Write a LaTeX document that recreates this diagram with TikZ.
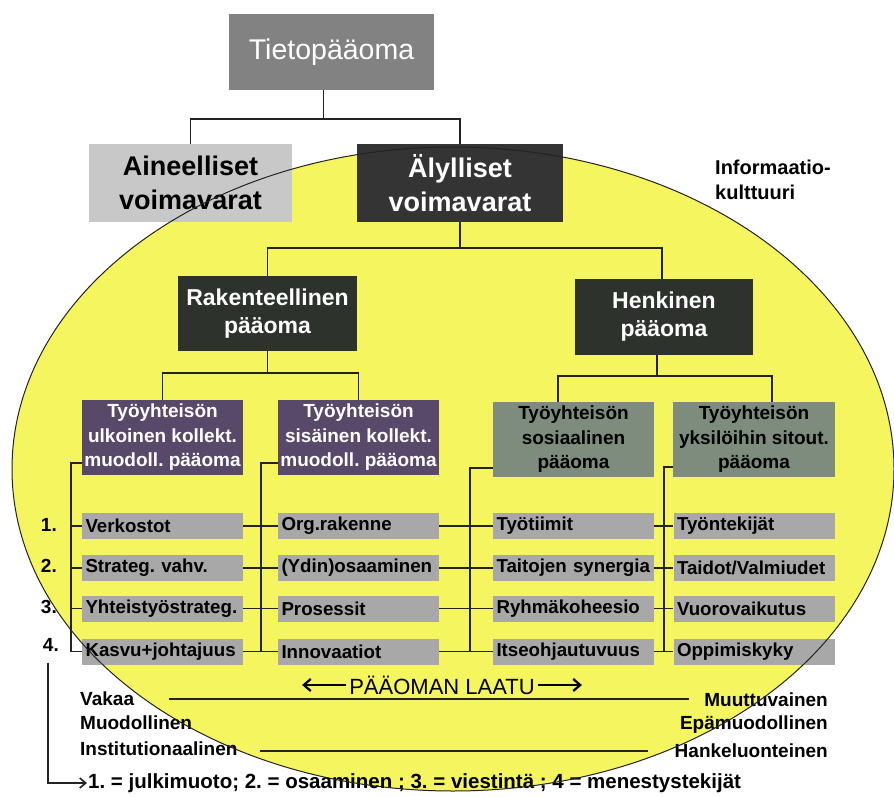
\documentclass[tikz,border=0pt]{standalone}
\usepackage{fontspec}
\setmainfont{Liberation Sans}
\usetikzlibrary{arrows.meta,calc}
\definecolor{ellyellow}{RGB}{245,245,95}
\definecolor{tietogray}{RGB}{130,130,130}
\definecolor{lightbox}{RGB}{200,200,200}
\definecolor{darkbox}{RGB}{52,52,52}
\definecolor{darkgreen}{RGB}{45,50,45}
\definecolor{purplebox}{RGB}{88,72,105}
\definecolor{greenbox}{RGB}{125,140,125}
\definecolor{itembox}{RGB}{168,168,168}
\definecolor{linecol}{RGB}{35,35,35}
\newcommand{\myfs}[2]{\fontsize{#1}{#2}\selectfont}
\frenchspacing
\tikzset{
  conn/.style={draw=linecol, line width=1.6pt},
  topbox/.style={inner sep=0pt, align=center},
  bigtxt/.style={font=\myfs{27}{34}\bfseries},
  midtxt/.style={font=\myfs{23}{28}\bfseries, text=white, fill=darkgreen, minimum height=75pt, minimum width=179pt},
  subbox/.style={inner sep=0pt, align=center, minimum width=161pt, minimum height=75pt, font=\myfs{19}{24.5}\bfseries},
  itemnode/.style={fill=itembox, minimum height=26pt, text width=154pt, inner xsep=3.5pt, inner ysep=0pt, align=left, font=\myfs{18.7}{22}\bfseries},
  numnode/.style={anchor=east, inner sep=1pt, font=\myfs{19}{22}\bfseries},
  sidetxt/.style={inner sep=0pt, font=\myfs{19}{22}\bfseries}
}
\begin{document}
\begin{tikzpicture}[x=1pt,y=-1pt]
\useasboundingbox (0,0) rectangle (894,797);
\fill[white] (0,0) rectangle (894,797);
% ellipse fill
\fill[ellyellow] (453,469) ellipse [x radius=441pt, y radius=322pt];

% top level
\node[topbox, fill=tietogray, minimum width=205pt, minimum height=76pt, text=white, font=\myfs{28.5}{34}] (tieto) at (331.5,52) {Tietopääoma};
\node[topbox, bigtxt, fill=lightbox, minimum width=203pt, minimum height=78pt] (ainee) at (190.5,183) {Aineelliset\\voimavarat};
\node[topbox, bigtxt, fill=darkbox, text=white, minimum width=206pt, minimum height=78pt] (alyl) at (460,183) {Älylliset\\voimavarat};
\node[anchor=north west, inner sep=0pt, align=left, font=\myfs{20}{24.5}\bfseries] (info) at (715,160) {Informaatio-\\kulttuuri};

% second level
\node[topbox, midtxt] (rak) at (267.5,313.5) {Rakenteellinen\\pääoma};
\node[topbox, midtxt, minimum width=178pt, minimum height=76pt] (henk) at (664,317) {Henkinen\\pääoma};

% third level
\node[subbox, fill=purplebox, text=white] (p1) at (162.5,437.5) {Työyhteisön\\ulkoinen kollekt.\\muodoll. pääoma};
\node[subbox, fill=purplebox, text=white] (p2) at (358.5,437.5) {Työyhteisön\\sisäinen kollekt.\\muodoll. pääoma};
\node[subbox, fill=greenbox] (g1) at (573.5,439.5) {Työyhteisön\\sosiaalinen\\pääoma};
\node[subbox, fill=greenbox, minimum width=162pt] (g2) at (754,439.5) {Työyhteisön\\yksilöihin sitout.\\pääoma};

% items
\node[itemnode] (a1) at (162.5,526) {Verkostot};
\node[itemnode] (a2) at (162.5,568) {Strateg. vahv.};
\node[itemnode] (a3) at (162.5,608.5) {Yhteistyöstrateg.};
\node[itemnode] (a4) at (162.5,651.5) {Kasvu+johtajuus};
\node[itemnode] (b1) at (358.5,526) {Org.rakenne};
\node[itemnode] (b2) at (358.5,568) {(Ydin)osaaminen};
\node[itemnode] (b3) at (358.5,608.5) {Prosessit};
\node[itemnode] (b4) at (358.5,651.5) {Innovaatiot};
\node[itemnode] (c1) at (573.5,526) {Työtiimit};
\node[itemnode] (c2) at (573.5,568) {Taitojen synergia};
\node[itemnode] (c3) at (573.5,608.5) {Ryhmäkoheesio};
\node[itemnode] (c4) at (573.5,651.5) {Itseohjautuvuus};
\node[itemnode] (d1) at (754,526) {Työntekijät};
\node[itemnode] (d2) at (754,568) {Taidot/Valmiudet};
\node[itemnode] (d3) at (754,608.5) {Vuorovaikutus};
\node[itemnode] (d4) at (754,651.5) {Oppimiskyky};

% row numbers
\node[numnode] (n1) at (58,525) {1.};
\node[numnode] (n2) at (58,566) {2.};
\node[numnode] (n3) at (58,607) {3.};
\node[numnode] (n4) at (60,645) {4.};

% connectors of hierarchy
\draw[conn] ([xshift=-8pt]tieto.south) -- ++(0,29) coordinate (tj);
\draw[conn] (ainee.north) |- (tj) -| (alyl.north);
\draw[conn] (alyl.south) -- ++(0,26) coordinate (aj);
\draw[conn] (rak.north) |- (aj) -| ([xshift=-2pt]henk.north);
\draw[conn] (rak.south) -- ++(0,22) coordinate (rj);
\draw[conn] (p1.north) |- (rj) -| (p2.north);
\draw[conn] ([xshift=-7pt]henk.south) -- ++(0,21) coordinate (hj);
\draw[conn] ([xshift=-15.5pt]g1.north) |- (hj) -| ([xshift=18pt]g2.north);

% brackets to items
\draw[conn] ([yshift=12pt]p1.south west) -- ++(-11,0) coordinate (p1v) |- (a4.west);
\foreach \i in {1,2,3} \draw[conn] (a\i.west) -- (p1v |- a\i.west);
\draw[conn] ([yshift=12pt]p2.south west) -- ++(-17,0) coordinate (p2v) -- (p2v |- a4.east);
\draw[conn] ([yshift=9pt]g1.south west) -- ++(-23,0) coordinate (g1v) -- (g1v |- b4.east);
\draw[conn] ([yshift=10pt]g2.south west) -- ++(-9,0) coordinate (g2v) -- (g2v |- c4.east);
\foreach \i in {1,2,3,4} {
  \draw[conn] (a\i.east) -- (b\i.west);
  \draw[conn] (b\i.east) -- (c\i.west);
  \draw[conn] (c\i.east) -- (d\i.west);
}

% quality scale
\node[inner sep=3pt, font=\myfs{22}{26}] (laatu) at (442,685) {PÄÄOMAN LAATU};
\draw[draw=black, line width=2.2pt, -{Straight Barb[length=7pt,width=12pt]}] (laatu.west) -- ++(-44,0);
\draw[draw=black, line width=2.2pt, -{Straight Barb[length=7pt,width=12pt]}] (laatu.east) -- ++(44,0);

\node[sidetxt, anchor=west] (vak) at (80,699) {Vakaa};
\node[sidetxt, anchor=west] (muod) at (80,723) {Muodollinen};
\node[sidetxt, anchor=west] (inst) at (80,749) {Institutionaalinen};
\node[sidetxt, anchor=east] (muut) at (828,700) {Muuttuvainen};
\node[sidetxt, anchor=east] (epam) at (828,725) {Epämuodollinen};
\node[sidetxt, anchor=east] (hank) at (828,751) {Hankeluonteinen};
\draw[conn] ([xshift=35pt]vak.east) -- ([xshift=-15pt]muut.west |- vak.east);
\draw[conn] ([xshift=22pt, yshift=-2pt]inst.east) -- ([xshift=-27pt]hank.west |- 0,751);

% legend
\node[anchor=west, inner sep=1pt, font=\myfs{20.5}{24}\bfseries] (legend) at (87,783) {1. = julkimuoto; 2. = osaaminen ; 3. = viestintä ; 4 = menestystekijät};
\draw[conn, -{Straight Barb[length=6pt,width=10pt]}] ([xshift=-3pt, yshift=-10pt]n4.south) |- (legend.west);

% ellipse outline on top
\draw[draw=linecol, line width=1pt] (453,469) ellipse [x radius=441pt, y radius=322pt];
\end{tikzpicture}
\end{document}
